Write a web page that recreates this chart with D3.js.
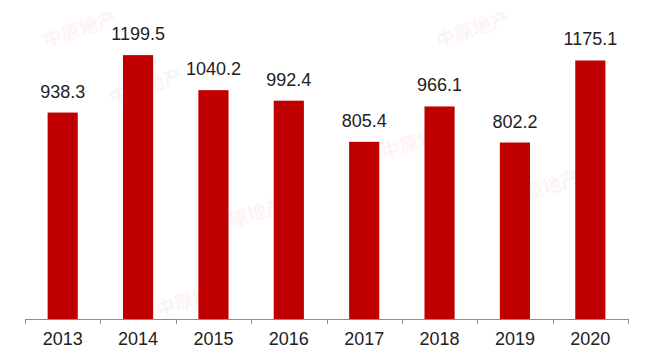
<!DOCTYPE html>
<html lang="zh">
<head>
<meta charset="UTF-8">
<title>bar chart</title>
<script src="https://cdn.jsdelivr.net/npm/d3@7"></script>
<style>
  body { margin: 0; background: #fff; }
</style>
</head>
<body>
<script>
// data
const years = ["2013", "2014", "2015", "2016", "2017", "2018", "2019", "2020"];
const values = [938.3, 1199.5, 1040.2, 992.4, 805.4, 966.1, 802.2, 1175.1];
const labels = ["938.3", "1199.5", "1040.2", "992.4", "805.4", "966.1", "802.2", "1175.1"];

// faint watermark spots
const marks = [[475, 36], [420, 148], [195, 305], [148, 93], [545, 195], [82, 36], [250, 222]];

const width = 649, height = 360;
const svg = d3.select("body").append("svg")
    .attr("width", width)
    .attr("height", height);

// watermarks first, under everything
svg.append("g").selectAll("text")
    .data(marks)
    .join("text")
    .attr("transform", d => `translate(${d[0]},${d[1]}) rotate(-18)`)
    .attr("text-anchor", "middle")
    .attr("font-family", "Noto Sans CJK SC")
    .attr("font-size", 19)
    .attr("font-weight", 700)
    .attr("fill", "#c00000")
    .attr("opacity", 0.04)
    .text("中原地产");

const x = d3.scaleBand()
    .domain(years)
    .range([25, 628])
    .paddingInner(0.6)
    .paddingOuter(0.3);

const y = d3.scaleLinear()
    .domain([0, 1400])
    .range([319, 11]);

svg.append("g")
    .selectAll("rect")
    .data(values)
    .join("rect")
    .attr("x", (d, i) => x(years[i]))
    .attr("width", x.bandwidth())
    .attr("y", d => y(d))
    .attr("height", d => y(0) - y(d))
    .attr("fill", "#c00000");

svg.append("g")
    .selectAll("text")
    .data(values)
    .join("text")
    .attr("x", (d, i) => x(years[i]) + x.bandwidth() / 2)
    .attr("y", d => y(d) - 15)
    .attr("text-anchor", "middle")
    .attr("font-family", "Liberation Sans, Arial, sans-serif")
    .attr("font-size", 18)
    .attr("fill", "#222")
    .text((d, i) => labels[i]);

// x axis with ticks between the categories
const axisG = svg.append("g");
axisG.append("line")
    .attr("x1", 25).attr("x2", 628)
    .attr("y1", 319.5).attr("y2", 319.5)
    .attr("stroke", "#8c8c8c");

const edges = years.map(d => x(d) - x.step() * x.paddingInner() / 2).concat([628]);
axisG.selectAll(".tick")
    .data(edges)
    .join("line")
    .attr("class", "tick")
    .attr("x1", d => Math.round(d) + 0.5).attr("x2", d => Math.round(d) + 0.5)
    .attr("y1", 319).attr("y2", 324)
    .attr("stroke", "#8c8c8c");

axisG.selectAll("text")
    .data(years)
    .join("text")
    .attr("x", d => x(d) + x.bandwidth() / 2)
    .attr("y", 345)
    .attr("text-anchor", "middle")
    .attr("font-family", "Liberation Sans, Arial, sans-serif")
    .attr("font-size", 18)
    .attr("fill", "#222")
    .text(d => d);
</script>
</body>
</html>
